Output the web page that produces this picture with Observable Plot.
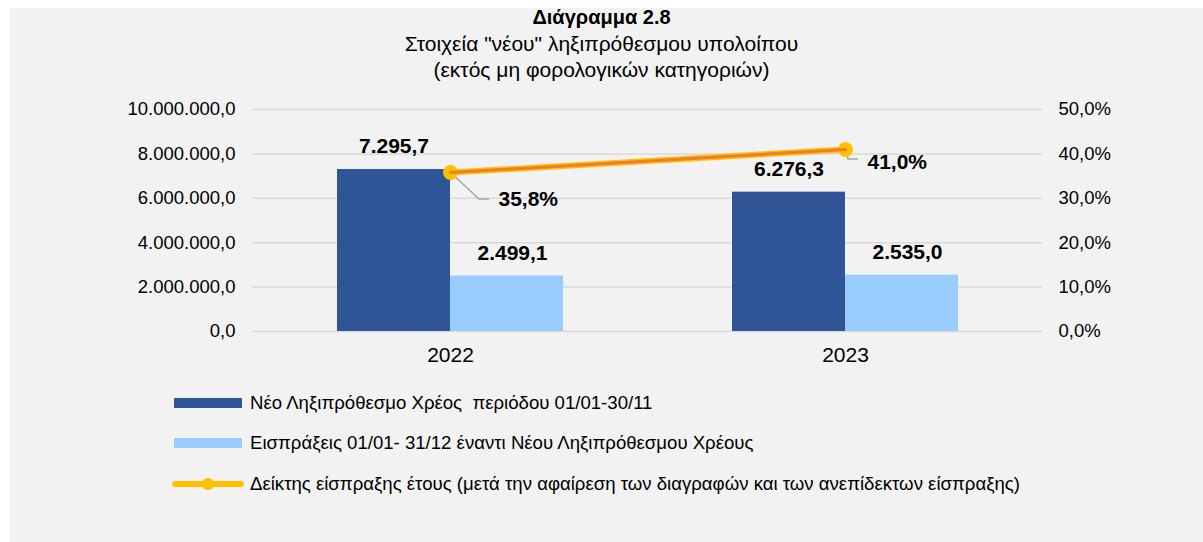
<!DOCTYPE html>
<html>
<head>
<meta charset="utf-8">
<script src="https://cdn.jsdelivr.net/npm/d3@7"></script>
<script src="https://cdn.jsdelivr.net/npm/@observablehq/plot@0.6"></script>
<style>
  html, body { margin: 0; padding: 0; background: #ffffff; width: 1203px; height: 542px; overflow: hidden; }
  body { font-family: "Liberation Sans", Arial, sans-serif; color: #000; position: relative; }
  #panel { position: absolute; left: 10px; top: 8px; width: 1193px; height: 534px; background: #f2f2f2; }
  #title { position: absolute; left: 0; top: 4px; width: 1203px; text-align: center; font-size: 21px; line-height: 26.5px; }
  #title .t1 { font-weight: bold; font-size: 20px; }
  #chart { position: absolute; left: 0; top: 95px; }
  .leg { position: absolute; left: 250px; font-size: 18.6px; line-height: 22px; white-space: pre; }
  .sw { position: absolute; }
</style>
</head>
<body>
<div id="panel"></div>
<div id="title"></div>
<div id="chart"></div>
<div id="legend"></div>
<script>
// ---- data ----
const titleLines = ["Διάγραμμα 2.8", "Στοιχεία \"νέου\" ληξιπρόθεσμου υπολοίπου", "(εκτός μη φορολογικών κατηγοριών)"];
const years = ["2022", "2023"];
const newDebt = [7295700, 6276300];          // Νέο Ληξιπρόθεσμο Χρέος
const collections = [2499100, 2535000];      // Εισπράξεις
const collectionRate = [35.8, 41.0];         // Δείκτης είσπραξης (%)
const leftTicks = [0, 2000000, 4000000, 6000000, 8000000, 10000000];
const rightTicks = [0, 10, 20, 30, 40, 50];
const seriesNames = [
  "Νέο Ληξιπρόθεσμο Χρέος  περιόδου 01/01-30/11",
  "Εισπράξεις 01/01- 31/12 έναντι Νέου Ληξιπρόθεσμου Χρέους",
  "Δείκτης είσπραξης έτους (μετά την αφαίρεση των διαγραφών και των ανεπίδεκτων είσπραξης)"
];
const colors = { debt: "#2F5597", coll: "#99CCFF", lineOuter: "#FFC000", lineInner: "#ED7D31", grid: "#d9d9d9", leader: "#a6a6a6" };

// ---- helpers ----
const locale = d3.formatLocale({ decimal: ",", thousands: ".", grouping: [3], currency: ["", "€"] });
const fmt1 = locale.format(",.1f");
const pctToY = p => p / 50 * 10000000; // secondary axis mapped onto primary domain
const yToPct = v => v / 10000000 * 50;

const rows = years.map((y, i) => ({ year: y, debt: newDebt[i], coll: collections[i], rate: collectionRate[i], rateY: pctToY(collectionRate[i]) }));

// ---- title ----
document.getElementById("title").innerHTML = titleLines.map((t, i) => `<div class="${i === 0 ? "t1" : ""}">${t.replace(/"/g, "&quot;")}</div>`).join("");

// ---- leader lines (custom mark) ----
const leaderOffsets = [
  [[0, 0], [29, 27], [39, 27]],
  [[0, 0], [3, 10], [13, 10]]
];
function leaders(index, scales) {
  const g = d3.create("svg:g");
  const bw = scales.x.bandwidth ? scales.x.bandwidth() : 0;
  rows.forEach((d, i) => {
    const cx = scales.x(d.year) + bw / 2;
    const cy = scales.y(d.rateY);
    const pts = leaderOffsets[i].map(([dx, dy]) => [cx + dx, cy + dy]);
    g.append("path")
      .attr("d", d3.line()(pts))
      .attr("fill", "none")
      .attr("stroke", colors.leader)
      .attr("stroke-width", 1.5);
  });
  return g.node();
}

const font = "'Liberation Sans', Arial, sans-serif";
const plot = Plot.plot({
  width: 1203,
  height: 280,
  marginLeft: 252,
  marginRight: 161,
  marginTop: 14,
  marginBottom: 44,
  style: { background: "transparent", fontFamily: font, color: "#000", overflow: "visible" },
  x: { domain: years, paddingInner: 0.428, paddingOuter: 0.214 },
  y: { domain: [0, 10000000] },
  marks: [
    Plot.gridY(leftTicks, { stroke: colors.grid, strokeOpacity: 1, strokeWidth: 1.5 }),
    Plot.axisY(leftTicks, { anchor: "left", tickSize: 0, tickPadding: 17, tickFormat: d => fmt1(d), fontSize: 18.5, label: null }),
    Plot.axisY(rightTicks.map(pctToY), { anchor: "right", tickSize: 0, tickPadding: 16, tickFormat: d => fmt1(yToPct(d)) + "%", fontSize: 18.5, label: null }),
    Plot.axisX({ tickSize: 0, tickPadding: 16, fontSize: 21, label: null }),
    Plot.barY(rows, { x: "year", y: "debt", fill: colors.debt, insetRight: 113, insetLeft: 0 }),
    Plot.barY(rows, { x: "year", y: "coll", fill: colors.coll, insetLeft: 113, insetRight: 0 }),
    Plot.text(rows, { x: "year", y: "debt", text: d => fmt1(d.debt / 1000), dx: -56.5, dy: -23, fontWeight: "bold", fontSize: 21 }),
    Plot.text(rows, { x: "year", y: "coll", text: d => fmt1(d.coll / 1000), dx: 62, dy: -23, fontWeight: "bold", fontSize: 21 }),
    leaders,
    Plot.line(rows, { x: "year", y: "rateY", stroke: colors.lineOuter, strokeWidth: 6 }),
    Plot.dot(rows, { x: "year", y: "rateY", r: 7.5, fill: colors.lineOuter, stroke: "none" }),
    Plot.line(rows, { x: "year", y: "rateY", stroke: colors.lineInner, strokeWidth: 3 }),
    Plot.text([rows[0]], { x: "year", y: "rateY", text: d => fmt1(d.rate) + "%", dx: 48, dy: 27, textAnchor: "start", fontWeight: "bold", fontSize: 21 }),
    Plot.text([rows[1]], { x: "year", y: "rateY", text: d => fmt1(d.rate) + "%", dx: 22, dy: 13, textAnchor: "start", fontWeight: "bold", fontSize: 21 })
  ]
});
document.getElementById("chart").appendChild(plot);

// ---- legend ----
const legend = document.getElementById("legend");
const rowY = [403, 443, 484];
legend.innerHTML = `
  <div class="sw" style="left:174px;top:${rowY[0] - 5}px;width:68px;height:10px;background:${colors.debt}"></div>
  <div class="sw" style="left:174px;top:${rowY[1] - 5}px;width:68px;height:10px;background:${colors.coll}"></div>
  <svg class="sw" style="left:166px;top:${rowY[2] - 10}px" width="84" height="20">
    <line x1="9" y1="10" x2="75" y2="10" stroke="${colors.lineOuter}" stroke-width="6" stroke-linecap="round"/>
    <circle cx="42" cy="10" r="6" fill="${colors.lineOuter}"/>
  </svg>
  ${seriesNames.map((s, i) => `<div class="leg" style="top:${rowY[i] - 11}px">${s}</div>`).join("")}
`;
</script>
</body>
</html>
